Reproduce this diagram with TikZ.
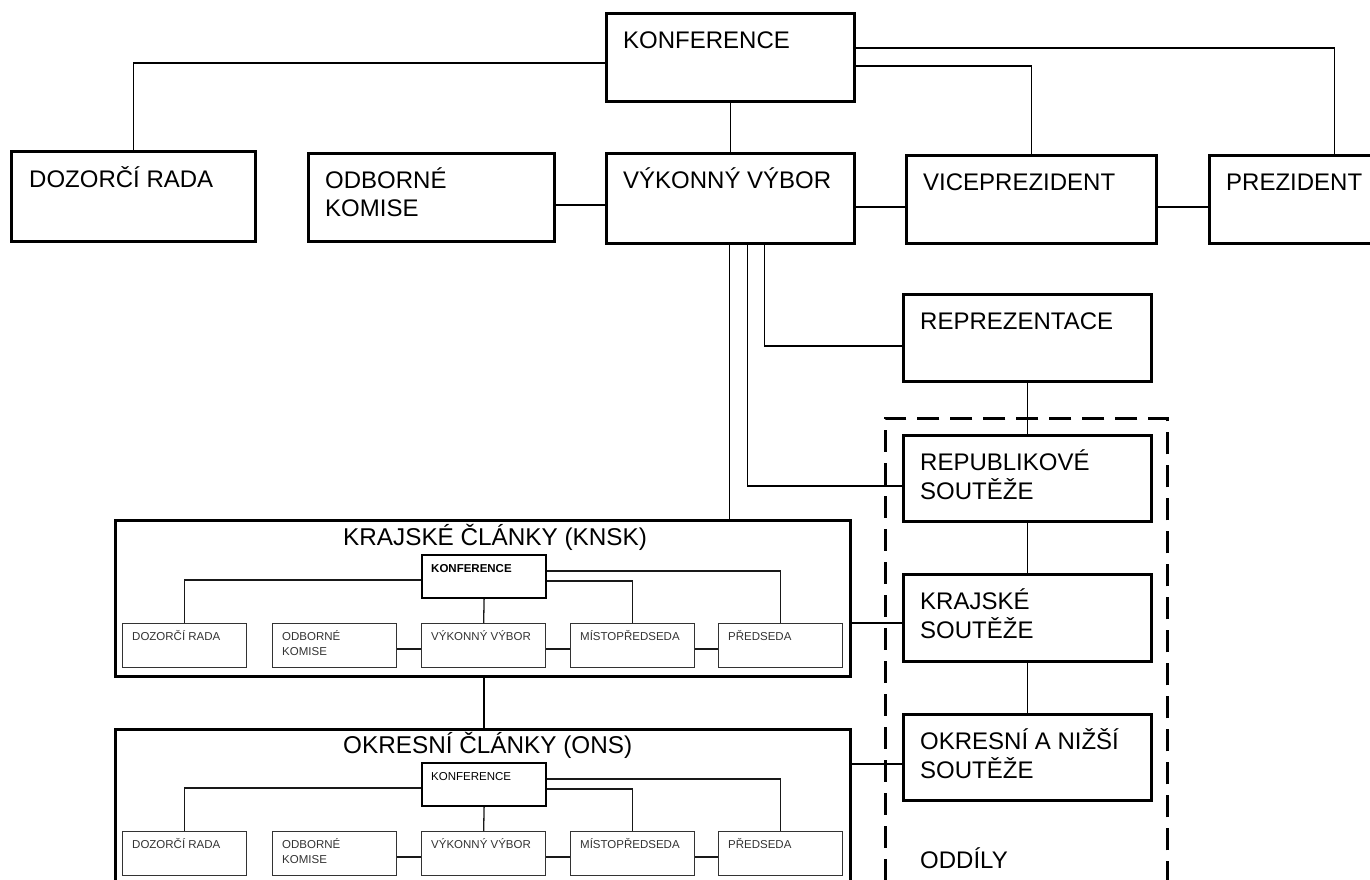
\documentclass[tikz,border=0pt]{standalone}
\usepackage{fontspec}
\setmainfont{Liberation Sans}
\usetikzlibrary{calc}
\begin{document}
\begin{tikzpicture}[x=1pt,y=-1pt,
  mainbox/.style={draw, line width=2.6pt, rectangle, anchor=north west, inner sep=0pt, minimum width=248pt, minimum height=88pt},
  groupbox/.style={draw, line width=3pt, rectangle, anchor=north west, inner sep=0pt, minimum width=735pt},
  subbox/.style={draw=black!80, line width=1.3pt, rectangle, anchor=north west, inner sep=0pt, minimum width=124pt, minimum height=44pt},
  konfbox/.style={subbox, draw=black, line width=2.2pt, minimum height=43pt},
  conn/.style={line width=1.4pt},
  subconn/.style={line width=1.3pt, black!90},
  dashbox/.style={draw, line width=2.6pt, dash pattern=on 22pt off 11pt, rectangle, anchor=north west, inner sep=0pt, minimum width=282pt, minimum height=480pt},
  maintext/.style={anchor=base west, inner sep=0pt, font=\fontsize{24}{28.5}\selectfont},
  titletext/.style={anchor=base west, inner sep=0pt, font=\fontsize{24.3}{28.5}\selectfont},
  smalltext/.style={anchor=base west, inner sep=0pt, text=black!80, font=\fontsize{11.5}{14.5}\selectfont},
]
\useasboundingbox (0,0) rectangle (1370,879);
\clip (0,0) rectangle (1370,879);
\fill[white] (0,0) rectangle (1370,879);

% ---------- top level boxes ----------
\node[mainbox] (konf) at (605,12) {};
\node[mainbox, minimum width=244pt, minimum height=90pt] (dozor) at (10,150) {};
\node[mainbox, minimum width=246pt] (odb) at (307,152) {};
\node[mainbox, minimum height=90pt] (vyk) at (605,152) {};
\node[mainbox, minimum width=250pt] (vice) at (905,154) {};
\node[mainbox, minimum width=250pt] (prez) at (1208,154) {};
\node[mainbox, minimum height=87pt] (repr) at (902,293) {};
\node[mainbox, minimum height=86pt] (repub) at (902,434) {};
\node[mainbox, minimum height=87pt] (kraj) at (902,573) {};
\node[mainbox, minimum height=86pt] (okres) at (902,713) {};

\node[maintext] (tkonf) at ($(konf.north west)+(18,36.5)$) {KONFERENCE};
\node[maintext] (tdozor) at ($(dozor.north west)+(19,37)$) {DOZORČÍ RADA};
\node[maintext] (todb) at ($(odb.north west)+(18,36)$) {\begin{tabular}[t]{@{}l@{}}ODBORNÉ\\KOMISE\end{tabular}};
\node[maintext] (tvyk) at ($(vyk.north west)+(18,36)$) {VÝKONNÝ VÝBOR};
\node[maintext] (tvice) at ($(vice.north west)+(18,36)$) {VICEPREZIDENT};
\node[maintext] (tprez) at ($(prez.north west)+(18,36)$) {PREZIDENT};
\node[maintext] (trepr) at ($(repr.north west)+(18,36)$) {REPREZENTACE};
\node[maintext] (trepub) at ($(repub.north west)+(18,36)$) {\begin{tabular}[t]{@{}l@{}}REPUBLIKOVÉ\\SOUTĚŽE\end{tabular}};
\node[maintext] (tkraj) at ($(kraj.north west)+(18,36)$) {\begin{tabular}[t]{@{}l@{}}KRAJSKÉ\\SOUTĚŽE\end{tabular}};
\node[maintext] (tokres) at ($(okres.north west)+(18,36)$) {\begin{tabular}[t]{@{}l@{}}OKRESNÍ A NIŽŠÍ\\SOUTĚŽE\end{tabular}};

% dashed ODDILY frame
\node[dashbox] (oddily) at (884,417) {};
\node[maintext] (toddily) at (920,868) {ODDÍLY};

% ---------- top connectors ----------
\draw[conn] ($(konf.north west)+(0,51)$) -| (dozor.north);
\draw[conn] ($(konf.north east)+(0,36)$) -| (prez.north);
\draw[conn] ($(konf.north east)+(0,54)$) -| (vice.north);
\draw[conn] (konf.south) -- (vyk.north);
\draw[conn] ($(odb.north east)+(0,53)$) -- ($(vyk.north west)+(0,53)$);
\draw[conn] ($(vyk.north east)+(0,55)$) -- ($(vice.north west)+(0,53)$);
\draw[line width=2pt] ($(vice.north east)+(0,53)$) -- ($(prez.north west)+(0,53)$);

% ---------- group boxes ----------
\node[groupbox, minimum height=156pt] (knsk) at (114,519) {};
\node[groupbox, minimum height=200pt] (ons) at (114,728) {};
\node[titletext] (tknsk) at (343,545) {KRAJSKÉ ČLÁNKY (KNSK)};
\node[titletext] (tons) at (343,753) {OKRESNÍ ČLÁNKY (ONS)};

% connectors from VYKONNY VYBOR downward
\coordinate (v1) at ($(vyk.south)+(-1,0)$);
\coordinate (v2) at ($(vyk.south)+(17,0)$);
\coordinate (v3) at ($(vyk.south)+(34,0)$);
\draw[conn] (v1) -- (v1 |- knsk.north);
\draw[conn] (v2) |- ($(repub.north west)+(0,52)$);
\draw[conn] (v3) |- ($(repr.north west)+(0,53)$);
\draw[conn] (repr.south) -- (repub.north);
\draw[conn] (repub.south) -- (kraj.north);
\draw[conn] (kraj.south) -- (okres.north);
\coordinate (kr1) at ($(kraj.north west)+(0,50)$);
\coordinate (ok1) at ($(okres.north west)+(0,51)$);
\draw[conn] (knsk.east |- kr1) -- (kr1);
\draw[conn] (ons.east |- ok1) -- (ok1);

% ---------- inner structure (KNSK and ONS) ----------
\foreach \p/\dy/\bf in {k/0/\bfseries, o/208/} {
  \node[konfbox] (\p konf) at (421,554+\dy) {};
  \node[subbox] (\p doz) at (122,623+\dy) {};
  \node[subbox] (\p odb) at (272,623+\dy) {};
  \node[subbox] (\p vyk) at (421,623+\dy) {};
  \node[subbox] (\p mis) at (570,623+\dy) {};
  \node[subbox] (\p pre) at (718,623+\dy) {};
  \node[smalltext, text=black, font=\fontsize{11.5}{14.5}\selectfont\bf] (\p tkonf) at ($(\p konf.north west)+(10,18)$) {KONFERENCE};
  \node[smalltext] (\p tdoz) at ($(\p doz.north west)+(10,17.5)$) {DOZORČÍ RADA};
  \node[smalltext] (\p todb) at ($(\p odb.north west)+(10,17.5)$) {\begin{tabular}[t]{@{}l@{}}ODBORNÉ\\KOMISE\end{tabular}};
  \node[smalltext] (\p tvyk) at ($(\p vyk.north west)+(10,17.5)$) {VÝKONNÝ VÝBOR};
  \node[smalltext] (\p tmis) at ($(\p mis.north west)+(10,17.5)$) {MÍSTOPŘEDSEDA};
  \node[smalltext] (\p tpre) at ($(\p pre.north west)+(10,17.5)$) {PŘEDSEDA};
  \draw[subconn] ($(\p konf.north west)+(0,26)$) -| (\p doz.north);
  \draw[subconn] ($(\p konf.north east)+(0,27)$) -| (\p mis.north);
  \draw[subconn] ($(\p konf.north east)+(0,17)$) -| (\p pre.north);
  \draw[subconn] (\p konf.south) -- (\p vyk.north);
  \draw[subconn] ($(\p odb.north east)+(0,26)$) -- ($(\p vyk.north west)+(0,26)$);
  \draw[subconn] ($(\p vyk.north east)+(0,26)$) -- ($(\p mis.north west)+(0,26)$);
  \draw[subconn] ($(\p mis.north east)+(0,26)$) -- ($(\p pre.north west)+(0,26)$);
}
\draw[conn] (kkonf.south |- knsk.south) -- (kkonf.south |- ons.north);
\end{tikzpicture}
\end{document}
